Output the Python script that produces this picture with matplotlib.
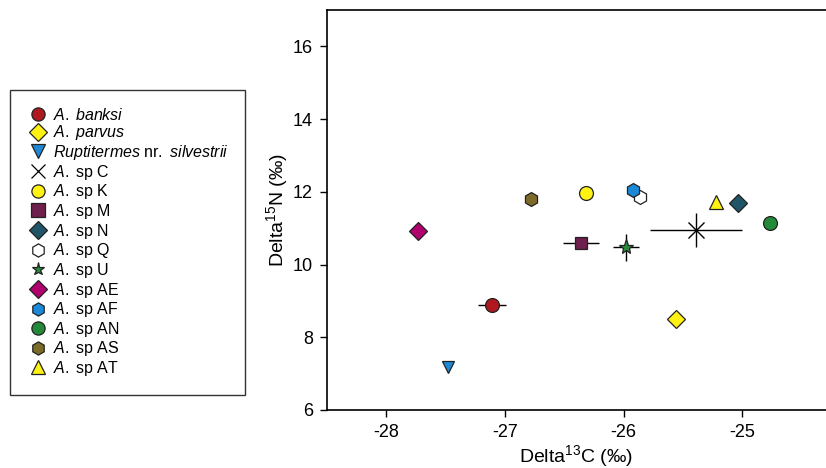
import matplotlib.pyplot as plt
import numpy as np

plt.rcParams['font.family'] = ['Liberation Sans', 'DejaVu Sans']
plt.rcParams['mathtext.fontset'] = 'custom'
plt.rcParams['mathtext.rm'] = 'Liberation Sans'
plt.rcParams['mathtext.it'] = 'Liberation Sans:italic'
plt.rcParams['axes.unicode_minus'] = False

# species data (delta13C, delta15N, errors)
labels = [r'$\mathit{A.\;banksi}$', r'$\mathit{A.\;parvus}$',
          r'$\mathit{Ruptitermes}\ \mathrm{nr.}\ \mathit{silvestrii}$',
          r'$\mathit{A.}\;\mathrm{sp\ C}$', r'$\mathit{A.}\;\mathrm{sp\ K}$',
          r'$\mathit{A.}\;\mathrm{sp\ M}$', r'$\mathit{A.}\;\mathrm{sp\ N}$',
          r'$\mathit{A.}\;\mathrm{sp\ Q}$', r'$\mathit{A.}\;\mathrm{sp\ U}$',
          r'$\mathit{A.}\;\mathrm{sp\ AE}$', r'$\mathit{A.}\;\mathrm{sp\ AF}$',
          r'$\mathit{A.}\;\mathrm{sp\ AN}$', r'$\mathit{A.}\;\mathrm{sp\ AS}$',
          r'$\mathit{A.}\;\mathrm{sp\ AT}$']
d13c = [-27.11, -25.56, -27.48, -25.39, -26.32, -26.36, -25.04, -25.86,
        -25.98, -27.73, -25.92, -24.77, -26.78, -25.22]
d15n = [8.90, 8.49, 7.17, 10.95, 11.97, 10.60, 11.69, 11.85,
        10.47, 10.92, 12.04, 11.15, 11.79, 11.72]
xerr = [0.115, 0, 0, 0.39, 0, 0.15, 0, 0, 0.107, 0, 0, 0, 0, 0]
yerr = [0, 0, 0, 0.47, 0, 0.12, 0, 0, 0.36, 0, 0, 0, 0, 0]

markers = ['o', 'D', 'v', 'x', 'o', 's', 'D', 'h', '*', 'D', 'h', 'o', 'h', '^']
colors = ['#B01820', '#FFF212', '#1E88D4', 'black', '#FFF212', '#6E1F4C',
          '#1F5566', 'white', '#2A8A3A', '#B0006E', '#1A8AD8', '#238A3A',
          '#7B6A28', '#FFF212']
sizes = [10, 9, 9, 11, 10, 9, 9, 10, 11, 9, 10, 10, 10, 10]

fig = plt.figure(figsize=(8.26, 4.68), dpi=100)
ax = fig.add_axes([327 / 826, 58 / 468, 499 / 826, 400 / 468])

for i in range(len(d13c)):
    if xerr[i] > 0 or yerr[i] > 0:
        ax.errorbar(d13c[i], d15n[i], xerr=xerr[i] if xerr[i] else None,
                    yerr=yerr[i] if yerr[i] else None,
                    fmt='none', ecolor='black', elinewidth=1.0, capsize=0, zorder=2)

handles = []
for i in range(len(d13c)):
    if markers[i] == 'x':
        ax.plot(d13c[i], d15n[i], ls='none', marker='x', color='black',
                ms=sizes[i], mew=1.0, zorder=3)
        hl, = ax.plot([], [], ls='none', marker='x', color='black', ms=9.5, mew=0.9)
    else:
        ax.plot(d13c[i], d15n[i], ls='none', marker=markers[i], mfc=colors[i],
                mec='#222222', mew=0.9, ms=sizes[i], zorder=3)
        hl, = ax.plot([], [], ls='none', marker=markers[i], mfc=colors[i],
                      mec='#222222', mew=0.9, ms=9.5)
    handles.append(hl)

ax.set_xlim(-28.5, -24.296)
ax.set_ylim(6, 17)
ax.set_xticks([-28, -27, -26, -25])
ax.set_yticks([6, 8, 10, 12, 14, 16])
ax.tick_params(labelsize=13, direction='out', length=5, width=1, pad=5)
ax.spines['right'].set_visible(False)
for s in ['left', 'bottom', 'top']:
    ax.spines[s].set_linewidth(1.2)
ax.set_xlabel(r'Delta$^{13}$C (‰)', fontsize=14, labelpad=1.5)
ax.set_ylabel(r'Delta$^{15}$N (‰)', fontsize=14, labelpad=2)

leg = fig.legend(handles, labels, loc='upper left',
                 bbox_to_anchor=(10 / 826, 1 - 90 / 468), fontsize=11.5,
                 frameon=True, fancybox=False, edgecolor='black',
                 handlelength=1.375, handletextpad=0.25, labelspacing=0.04,
                 borderpad=1.05, borderaxespad=0)
leg.get_frame().set_linewidth(1.0)

fig.savefig('out.png', dpi=100)
